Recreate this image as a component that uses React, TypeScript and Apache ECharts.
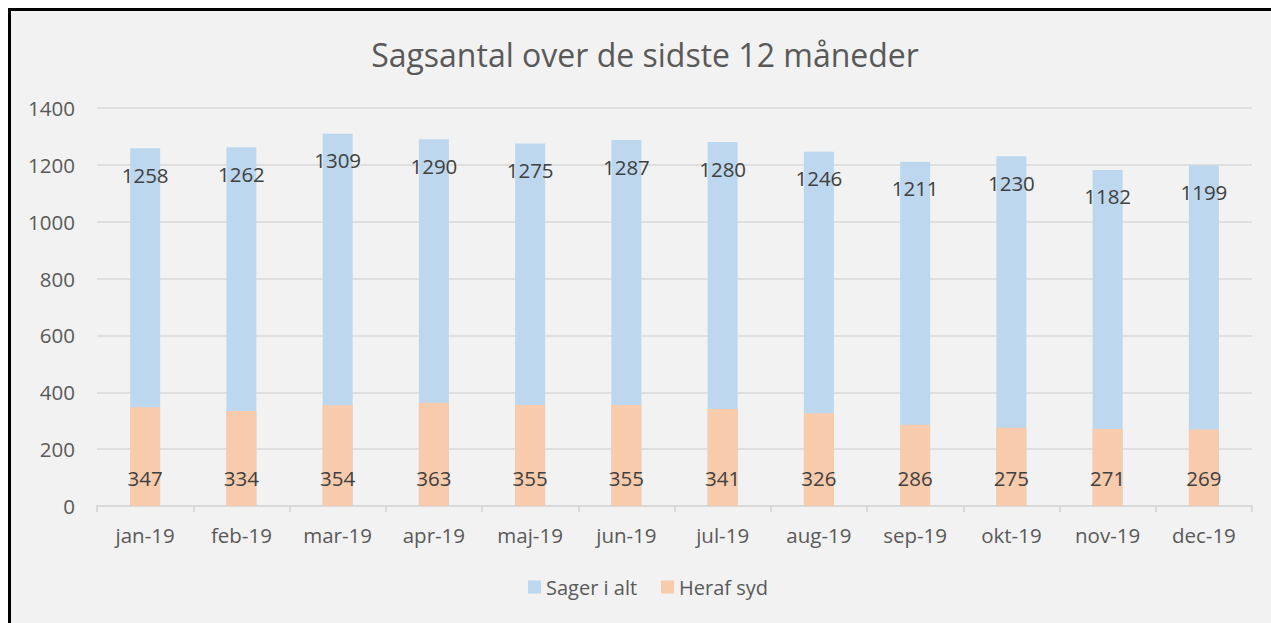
import React, { useEffect, useRef } from "react";
import * as echarts from "echarts";

const months = ["jan-19", "feb-19", "mar-19", "apr-19", "maj-19", "jun-19", "jul-19", "aug-19", "sep-19", "okt-19", "nov-19", "dec-19"];
const sagerIAlt = [1258, 1262, 1309, 1290, 1275, 1287, 1280, 1246, 1211, 1230, 1182, 1199];
const herafSyd = [347, 334, 354, 363, 355, 355, 341, 326, 286, 275, 271, 269];
const yTicks = { min: 0, max: 1400, interval: 200 };
const titleText = "Sagsantal over de sidste 12 måneder";

const FONT = "'Open Sans', sans-serif";

export default function App() {
  const ref = useRef<HTMLDivElement>(null);
  useEffect(() => {
    if (!ref.current) return;
    const chart = echarts.init(ref.current, null, { renderer: "svg" });
    chart.setOption({
      animation: false,
      backgroundColor: "#f2f2f2",
      textStyle: { fontFamily: FONT },
      title: {
        text: titleText,
        left: "center",
        top: 22,
        textStyle: { fontFamily: FONT, fontSize: 32, fontWeight: "normal", color: "#595959" },
      },
      legend: {
        left: 512,
        top: 561,
        itemWidth: 13,
        itemHeight: 13,
        itemGap: 24,
        icon: "rect",
        textStyle: { fontFamily: FONT, fontSize: 20, color: "#595959" },
        data: ["Sager i alt", "Heraf syd"],
      },
      grid: { left: 86, right: 27, top: 97, bottom: 123, containLabel: false },
      xAxis: {
        type: "category",
        data: months,
        axisLine: { lineStyle: { color: "#d9d9d9", width: 2 } },
        axisTick: { show: true, length: 6, lineStyle: { color: "#d9d9d9", width: 2 } },
        axisLabel: { fontFamily: FONT, fontSize: 20.5, color: "#595959", margin: 18 },
      },
      yAxis: {
        type: "value",
        min: yTicks.min,
        max: yTicks.max,
        interval: yTicks.interval,
        axisLine: { show: false },
        axisTick: { show: false },
        splitLine: { lineStyle: { color: "#d9d9d9", width: 1.5 } },
        axisLabel: {
          fontFamily: FONT,
          fontSize: 20.5,
          color: "#595959",
          margin: 22,
          formatter: (v: number) => String(v),
        },
      },
      series: [
        {
          name: "Sager i alt",
          type: "bar",
          data: sagerIAlt,
          barWidth: 30,
          itemStyle: { color: "#bdd7ee" },
          label: {
            show: true,
            position: "insideTop",
            distance: 16,
            fontFamily: FONT,
            fontSize: 20.5,
            color: "#404040",
            textBorderWidth: 0,
          },
        },
        {
          name: "Heraf syd",
          type: "bar",
          data: herafSyd,
          barWidth: 30,
          barGap: "-100%",
          itemStyle: { color: "#f8cbad" },
          label: {
            show: true,
            position: "insideBottom",
            distance: 18,
            fontFamily: FONT,
            fontSize: 20.5,
            color: "#404040",
            textBorderWidth: 0,
          },
        },
      ],
    });
    return () => chart.dispose();
  }, []);

  return (
    <div
      style={{
        position: "fixed",
        left: 8,
        top: 8,
        borderLeft: "3px solid #000",
        borderTop: "3px solid #000",
        background: "#f2f2f2",
      }}
    >
      <div ref={ref} style={{ width: 1268, height: 618 }} />
    </div>
  );
}
